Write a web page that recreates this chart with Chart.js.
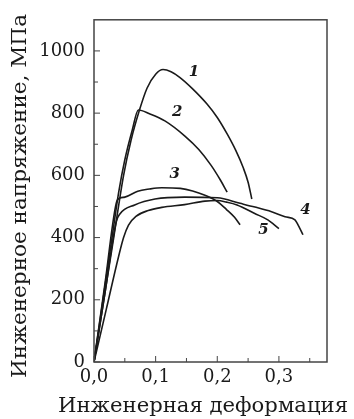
<!DOCTYPE html>
<html>
<head>
<meta charset="utf-8">
<script src="https://cdn.jsdelivr.net/npm/chart.js@4"></script>
<style>
  html, body { margin: 0; padding: 0; background: #fff; }
  #wrap { width: 354px; height: 419px; }
</style>
</head>
<body>
<div id="wrap"><canvas id="c"></canvas></div>
<script>
// curves: strain (x) and engineering stress, MPa (y)
const strain1 = [0, 0.016, 0.032, 0.048, 0.06, 0.073, 0.086, 0.1, 0.112, 0.125, 0.139, 0.16, 0.183, 0.2, 0.216, 0.23, 0.242, 0.25, 0.256];
const stress1 = [0, 200, 400, 600, 712, 805, 880, 925, 940, 933, 915, 878, 830, 786, 733, 680, 625, 578, 524];

const strain2 = [0, 0.015, 0.03, 0.04, 0.05, 0.062, 0.072, 0.09, 0.115, 0.147, 0.17, 0.19, 0.205, 0.216];
const stress2 = [0, 205, 410, 545, 650, 745, 810, 798, 775, 727, 683, 632, 585, 546];

const strain3 = [0, 0.018, 0.036, 0.042, 0.05, 0.071, 0.09, 0.11, 0.14, 0.16, 0.18, 0.2, 0.215, 0.228, 0.237];
const stress3 = [0, 255, 510, 527, 530, 549, 556, 560, 558, 550, 536, 516, 490, 465, 441];

const strain4 = [0, 0.018, 0.036, 0.042, 0.066, 0.099, 0.147, 0.2, 0.237, 0.261, 0.288, 0.31, 0.326, 0.331, 0.339];
const stress4 = [0, 225, 450, 476, 505, 524, 530, 528, 510, 498, 483, 467, 457, 441, 409];

const strain5 = [0, 0.02, 0.04, 0.048, 0.056, 0.068, 0.088, 0.11, 0.147, 0.18, 0.2, 0.215, 0.232, 0.26, 0.282, 0.3];
const stress5 = [0, 170, 340, 400, 440, 468, 487, 497, 506, 517, 519, 514, 505, 478, 457, 429];

const curveNames = ['1', '2', '3', '4', '5'];
const labelStrain = [0.162, 0.135, 0.131, 0.343, 0.275];
const labelStress = [933, 803, 603, 489, 425];

const xTicks = [0, 0.1, 0.2, 0.3];
const xMinor = [0.05, 0.15, 0.25, 0.35];
const yTicks = [0, 200, 400, 600, 800, 1000];
const yMinor = [100, 300, 500, 700, 900];

const xTitle = 'Инженерная деформация';
const yTitle = 'Инженерное напряжение, МПа';

const FONT = "'DejaVu Serif', 'Liberation Serif', serif";
const INK = '#1a1a1a';

function pts(xs, ys) { return xs.map((x, i) => ({ x: x, y: ys[i] })); }

const series = [
  pts(strain1, stress1), pts(strain2, stress2), pts(strain3, stress3),
  pts(strain4, stress4), pts(strain5, stress5)
];

// draw text stretched to a given width (the book face is wider than DejaVu)
function wideText(ctx, text, cx, cy, width) {
  const w = ctx.measureText(text).width;
  ctx.save();
  ctx.translate(cx, cy);
  ctx.scale(width / w, 1);
  ctx.fillText(text, 0, 0);
  ctx.restore();
}

// frame, inward tick marks, axis titles and curve numbers
const decor = {
  id: 'decor',
  afterDraw(chart) {
    const { ctx, chartArea: a, scales: { x, y } } = chart;
    ctx.save();
    ctx.strokeStyle = '#444';
    ctx.lineWidth = 1.5;
    ctx.strokeRect(a.left, a.top, a.right - a.left, a.bottom - a.top);
    ctx.lineWidth = 1;
    ctx.beginPath();
    yTicks.forEach(v => { const p = y.getPixelForValue(v); ctx.moveTo(a.left, p); ctx.lineTo(a.left + 6, p); });
    yMinor.forEach(v => { const p = y.getPixelForValue(v); ctx.moveTo(a.left, p); ctx.lineTo(a.left + 4, p); });
    xTicks.forEach(v => { const p = x.getPixelForValue(v); ctx.moveTo(p, a.bottom); ctx.lineTo(p, a.bottom - 6); });
    xMinor.forEach(v => { const p = x.getPixelForValue(v); ctx.moveTo(p, a.bottom); ctx.lineTo(p, a.bottom - 4); });
    ctx.stroke();

    ctx.fillStyle = INK;
    ctx.textAlign = 'center';
    ctx.textBaseline = 'middle';
    ctx.font = "20px " + FONT;
    wideText(ctx, xTitle, 203, 407, 290);
    ctx.save();
    ctx.translate(21, 196);
    ctx.rotate(-Math.PI / 2);
    wideText(ctx, yTitle, 0, 0, 364);
    ctx.restore();

    ctx.font = "italic bold 15px " + FONT;
    curveNames.forEach((n, i) => {
      ctx.fillText(n, x.getPixelForValue(labelStrain[i]), y.getPixelForValue(labelStress[i]));
    });
    ctx.restore();
  }
};

new Chart(document.getElementById('c'), {
  type: 'scatter',
  data: {
    datasets: series.map((d, i) => ({
      label: curveNames[i],
      data: d,
      showLine: true,
      borderColor: INK,
      borderWidth: 1.6,
      pointRadius: 0,
      cubicInterpolationMode: 'monotone',
      fill: false
    }))
  },
  options: {
    responsive: true,
    maintainAspectRatio: false,
    animation: false,
    layout: { padding: { left: 0, right: 27, top: 15, bottom: 0 } },
    plugins: { legend: { display: false }, tooltip: { enabled: false } },
    scales: {
      x: {
        type: 'linear',
        min: 0,
        max: 0.378,
        afterFit: s => { s.height = 57; },
        afterBuildTicks: s => { s.ticks = xTicks.map(v => ({ value: v })); },
        grid: { display: false, drawTicks: false },
        border: { display: false },
        ticks: {
          color: INK,
          font: { family: FONT, size: 18 },
          padding: 5,
          maxRotation: 0,
          callback: v => v.toFixed(1).replace('.', ',')
        }
      },
      y: {
        type: 'linear',
        min: 0,
        max: 1100,
        afterFit: s => { s.width = 94; },
        afterBuildTicks: s => { s.ticks = yTicks.map(v => ({ value: v })); },
        grid: { display: false, drawTicks: false },
        border: { display: false },
        ticks: {
          color: INK,
          font: { family: FONT, size: 18 },
          padding: 9,
          callback: v => String(v)
        }
      }
    }
  },
  plugins: [decor]
});
</script>
</body>
</html>
